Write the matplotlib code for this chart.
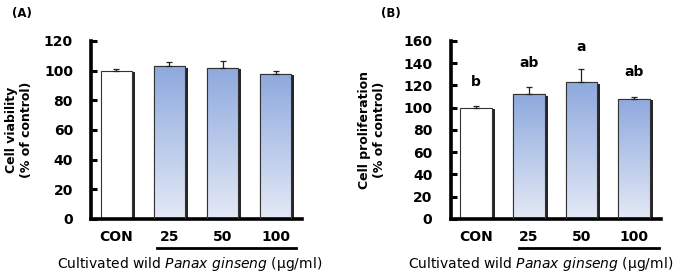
import numpy as np
import matplotlib
matplotlib.use('Agg')
import matplotlib.pyplot as plt
import matplotlib.patheffects as pe
import matplotlib.transforms as mtransforms
from matplotlib.colors import LinearSegmentedColormap

plt.rcParams['font.family'] = ['DejaVu Sans']

# datos
grupos = ['CON', '25', '50', '100']
viabilidad = [100, 103, 102, 98]
viabilidad_err = [1, 3, 4.5, 2]
proliferacion = [100, 112, 123, 108]
proliferacion_err = [1.5, 7, 12, 1.5]
letras = ['b', 'ab', 'a', 'ab']
letras_y = [123, 140, 155, 132]

azul = LinearSegmentedColormap.from_list('azul', ['#e4e9f6', '#8ea9de'])

fig = plt.figure(figsize=(6.88, 2.73), dpi=100)


def panel(ax, valores, errores, ymax, ylabel, label_x, linea, texto_x):
    x = np.arange(len(grupos))
    barras = ax.bar(x, valores, width=0.6, color='white', edgecolor='#333333',
                    linewidth=0.8, zorder=2,
                    path_effects=[pe.SimplePatchShadow(offset=(2.2, -1.2), shadow_rgbFace='black', alpha=0.85),
                                  pe.Normal()])
    grad = np.linspace(0, 1, 256).reshape(-1, 1)
    for i, b in enumerate(barras):
        if i == 0:
            continue
        im = ax.imshow(grad, cmap=azul, origin='lower', aspect='auto',
                       extent=(b.get_x(), b.get_x() + b.get_width(), 0, b.get_height()),
                       zorder=2.5)
        im.set_clip_path(b)
        ax.bar(b.get_x() + b.get_width() / 2, b.get_height(), width=b.get_width(),
               facecolor='none', edgecolor='#333333', linewidth=0.8, zorder=3)
    ax.errorbar(x, valores, yerr=[np.zeros(len(errores)), errores], fmt='none',
                ecolor='#222222', elinewidth=0.9, capsize=2.5, capthick=0.9, zorder=4)
    ax.set_xlim(-0.48, 3.5)
    ax.set_ylim(0, ymax)
    ax.set_yticks(np.arange(0, ymax + 1, 20))
    ax.set_xticks(x)
    ax.set_xticklabels(grupos)
    for s in ['top', 'right']:
        ax.spines[s].set_visible(False)
    ax.spines['left'].set_linewidth(2.6)
    ax.spines['bottom'].set_linewidth(2.6)
    ax.tick_params(axis='y', direction='in', length=4, width=2.2, pad=13,
                   labelsize=10)
    ax.tick_params(axis='x', length=0, pad=8, labelsize=10)
    for t in ax.get_xticklabels() + ax.get_yticklabels():
        t.set_fontweight('bold')
    ax.set_ylabel(ylabel, fontsize=9, fontweight='bold', linespacing=1.15)
    ax.yaxis.set_label_coords(label_x, 0.5)
    # linea bajo las dosis
    trans = mtransforms.blended_transform_factory(ax.transData, ax.transAxes)
    ax.plot(linea, [-0.163, -0.163], color='black', lw=2, clip_on=False, transform=trans)
    ax.text(texto_x, -0.275, 'Cultivated wild $\\it{Panax\\ ginseng}$ (μg/ml)',
            transform=ax.transAxes, ha='center', va='baseline', fontsize=10)


axA = fig.add_axes([0.1323, 0.198, 0.3067, 0.652])
panel(axA, viabilidad, viabilidad_err, 120, 'Cell viability\n(% of control)', -0.275,
      [0.76, 3.39], 0.465)
fig.text(0.017, 0.952, '(A)', fontsize=8.5, fontweight='bold', va='center')

axB = fig.add_axes([0.6548, 0.198, 0.3055, 0.652])
panel(axB, proliferacion, proliferacion_err, 160, 'Cell proliferation\n(% of control)', -0.307,
      [0.82, 3.47], 0.43)
for i, l in enumerate(letras):
    axB.text(i, letras_y[i], l, ha='center', va='center', fontsize=10, fontweight='bold')
fig.text(0.554, 0.952, '(B)', fontsize=8.5, fontweight='bold', va='center')

fig.savefig('out.png', dpi=100)
